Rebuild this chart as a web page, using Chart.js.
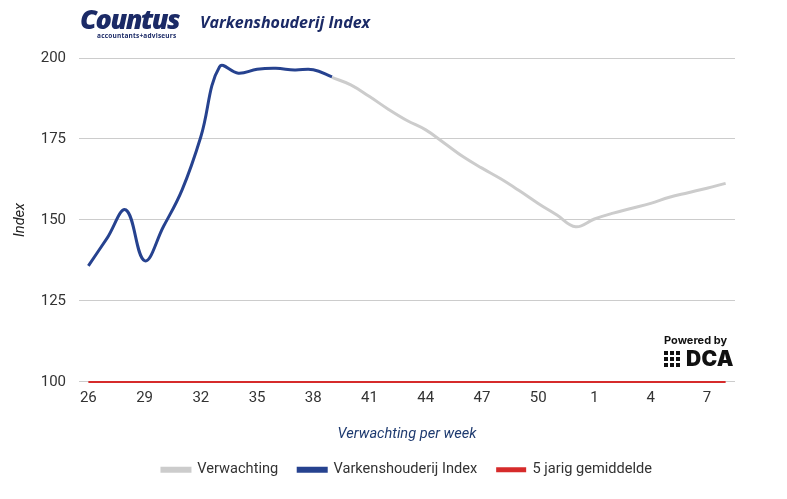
<!DOCTYPE html>
<html>
<head>
<meta charset="utf-8">
<script src="https://cdn.jsdelivr.net/npm/chart.js@4.4.0/dist/chart.umd.min.js"></script>
<style>
  html, body { margin: 0; padding: 0; background: #fff; }
  #wrap { position: relative; width: 787px; height: 499px; overflow: hidden; }
  #chart { position: absolute; left: 0; top: 0; }
  .logo { position: absolute; left: 80px; top: 5px; color: #1b2a66; font-family: "Open Sans", sans-serif; }
  .logo .big { font-size: 27px; font-weight: 800; font-style: italic; letter-spacing: -1.5px; line-height: 27px; }
  .logo .small { font-size: 6.5px; font-weight: 700; letter-spacing: 0.2px; margin-left: 17px; line-height: 7px; }
  .title { position: absolute; left: 200px; top: 11px; color: #1b2a66; font-family: "Open Sans", sans-serif;
           font-size: 16px; font-weight: 700; font-style: italic; }
  .dca { position: absolute; left: 664px; top: 333px; color: #111; font-family: "Inter", sans-serif; }
  .dca .pb { font-size: 11px; font-weight: 700; }
  .dca .row { display: flex; align-items: center; margin-top: 2px; }
  .dca .icon { display: grid; grid-template-columns: repeat(3, 4px); gap: 2px; margin-right: 6px; }
  .dca .icon span { width: 4px; height: 4px; background: #111; }
  .dca .name { font-size: 21px; font-weight: 900; line-height: 20px; letter-spacing: 0.3px; }
</style>
</head>
<body>
<div id="wrap">
  <canvas id="chart" width="787" height="499"></canvas>
  <div class="logo"><div class="big">Countus</div><div class="small">accountants+adviseurs</div></div>
  <div class="title">Varkenshouderij Index</div>
  <div class="dca">
    <div class="pb">Powered by</div>
    <div class="row">
      <div class="icon"><span></span><span></span><span></span><span></span><span></span><span></span><span></span><span></span><span></span></div>
      <div class="name">DCA</div>
    </div>
  </div>
</div>
<script>
// weken 26 t/m 52, daarna 1 t/m 8
const weken = ["26","27","28","29","30","31","32","33","34","35","36","37","38","39","40",
  "41","42","43","44","45","46","47","48","49","50","51","52","1","2","3","4","5","6","7","8"];

const index = [135.8, 144.4, 153.1, 137.4, 147.9, 159.3, 175.7, 197.3, 195.3, 196.5, 196.8, 196.3, 196.4, 194.2,
  null, null, null, null, null, null, null, null, null, null, null, null, null, null, null, null, null, null, null, null, null];

const verwachting = [null, null, null, null, null, null, null, null, null, null, null, null, null,
  194.0, 191.7, 188.1, 184.2, 180.7, 177.8, 173.7, 169.5, 166.0, 162.7, 159.0, 155.1, 151.5, 147.9,
  150.3, 152.1, 153.6, 155.1, 157.0, 158.4, 159.8, 161.3];

const gemiddelde = [100, 100, 100, 100, 100, 100, 100, 100, 100, 100, 100, 100, 100, 100, 100,
  100, 100, 100, 100, 100, 100, 100, 100, 100, 100, 100, 100, 100, 100, 100, 100, 100, 100, 100, 100];

const yTicks = [100, 125, 150, 175, 200];

const fontFam = "Roboto, 'Liberation Sans', sans-serif";

new Chart(document.getElementById("chart"), {
  type: "line",
  data: {
    labels: weken,
    datasets: [
      {
        label: "Verwachting",
        data: verwachting,
        borderColor: "#cccccc",
        backgroundColor: "#cccccc",
        borderWidth: 3,
        tension: 0.4,
        pointRadius: 0,
        clip: 5
      },
      {
        label: "Varkenshouderij Index",
        data: index,
        borderColor: "#26428f",
        backgroundColor: "#26428f",
        borderWidth: 3,
        tension: 0.4,
        pointRadius: 0,
        clip: 5
      },
      {
        label: "5 jarig gemiddelde",
        data: gemiddelde,
        borderColor: "#d62b2b",
        backgroundColor: "#d62b2b",
        borderWidth: 2,
        pointRadius: 0,
        clip: 5
      }
    ]
  },
  options: {
    responsive: false,
    animation: false,
    layout: { padding: { top: 58, left: 8, right: 52, bottom: 12 } },
    plugins: {
      tooltip: { enabled: false },
      legend: {
        position: "bottom",
        fullSize: false,
        labels: {
          boxWidth: 28,
          boxHeight: 3,
          padding: 20,
          color: "#333",
          font: { family: fontFam, size: 14.6 },
          sort: (a, b) => a.datasetIndex - b.datasetIndex
        }
      }
    },
    scales: {
      x: {
        offset: true,
        grid: { display: false, drawTicks: false },
        border: { display: false },
        ticks: {
          color: "#333",
          font: { family: fontFam, size: 15 },
          maxRotation: 0,
          autoSkip: false,
          padding: 7,
          callback: function (v, i) { return i % 3 === 0 ? weken[i] : null; }
        },
        title: {
          display: true,
          text: "Verwachting per week",
          color: "#1f3b70",
          font: { family: fontFam, size: 14.6, style: "italic" },
          padding: { top: 12, bottom: -1 }
        }
      },
      y: {
        min: 100,
        max: 200,
        afterBuildTicks: function (s) { s.ticks = yTicks.map(v => ({ value: v })); },
        afterFit: function (s) { s.width = 71; },
        grid: { color: "#cccccc", drawTicks: false },
        border: { display: false },
        ticks: {
          color: "#333",
          font: { family: fontFam, size: 15 },
          padding: 13
        },
        title: {
          display: true,
          text: "Index",
          color: "#222",
          font: { family: fontFam, size: 14.6, style: "italic" },
          padding: { top: 4, bottom: 0 }
        }
      }
    }
  }
});
</script>
</body>
</html>
